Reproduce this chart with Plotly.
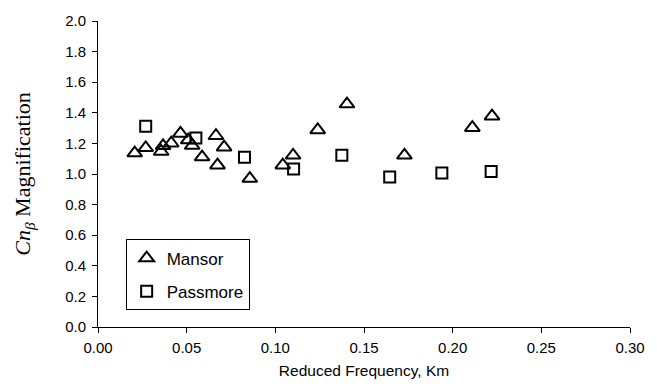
import plotly.graph_objects as go

# Mansor data: reduced frequency vs. Cn_beta magnification
mansor_k = [0.0207, 0.0269, 0.0356, 0.0367, 0.0413, 0.0465, 0.0509, 0.0531, 0.0587,
            0.0665, 0.0674, 0.0711, 0.0856, 0.1042, 0.1100, 0.1239, 0.1404, 0.1728,
            0.2111, 0.2222]
mansor_mag = [1.137, 1.171, 1.147, 1.184, 1.201, 1.265, 1.222, 1.186, 1.111,
              1.250, 1.058, 1.175, 0.970, 1.058, 1.122, 1.288, 1.457, 1.122,
              1.303, 1.378]

# Passmore data
passmore_k = [0.0269, 0.0552, 0.0826, 0.1103, 0.1375, 0.1645, 0.1939, 0.2217]
passmore_mag = [1.312, 1.235, 1.109, 1.032, 1.122, 0.981, 1.006, 1.017]

x_ticks = [0.00, 0.05, 0.10, 0.15, 0.20, 0.25, 0.30]
y_ticks = [0.0, 0.2, 0.4, 0.6, 0.8, 1.0, 1.2, 1.4, 1.6, 1.8, 2.0]

SANS = "Liberation Sans, Arial, sans-serif"
SERIF = "Liberation Serif, Times New Roman, serif"

fig = go.Figure()
fig.add_trace(go.Scatter(
    x=mansor_k, y=mansor_mag, mode="markers", name="Mansor", legendgroup="m",
    marker=dict(symbol="triangle-up-open", size=13, color="black",
                line=dict(width=2, color="black")),
))
fig.add_trace(go.Scatter(
    x=passmore_k, y=passmore_mag, mode="markers", name="Passmore", legendgroup="p",
    marker=dict(symbol="square-open", size=11, color="black",
                line=dict(width=2, color="black")),
))

axis_common = dict(
    showgrid=False, zeroline=False, showline=True, linecolor="black", linewidth=1,
    ticks="outside", ticklen=5, tickcolor="black", tickwidth=1,
    tickfont=dict(family=SANS, size=15, color="black"),
)

fig.update_layout(
    width=657, height=389,
    margin=dict(l=98, r=19, t=16, b=61),
    paper_bgcolor="white", plot_bgcolor="white",
    showlegend=True,
    legend=dict(
        x=0.052, y=0.286, xanchor="left", yanchor="top",
        bgcolor="white", bordercolor="black", borderwidth=1,
        font=dict(family=SANS, size=17, color="black"),
        itemwidth=30, tracegroupgap=8, traceorder="grouped",
    ),
    xaxis=dict(
        range=[0, 0.30], tickvals=x_ticks, tickformat=".2f", ticklabelstandoff=2,
        title=dict(text="Reduced Frequency, Km", standoff=10,
                   font=dict(family=SANS, size=15.5, color="black")),
        **axis_common,
    ),
    yaxis=dict(
        range=[0, 2.0], tickvals=y_ticks, tickformat=".1f", ticklabelstandoff=3,
        title=dict(text="<i>Cn</i><sub><i>β</i></sub> Magnification", standoff=28,
                   font=dict(family=SERIF, size=22, color="black")),
        **axis_common,
    ),
)

fig.write_html("out.html")
